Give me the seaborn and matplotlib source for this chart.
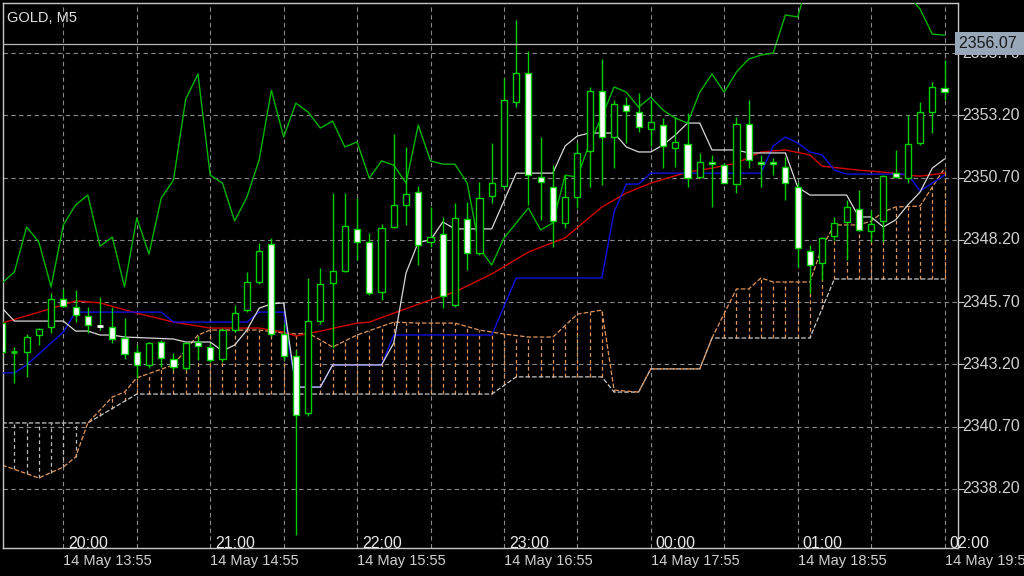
import numpy as np
import pandas as pd
import matplotlib
matplotlib.use("Agg")
import matplotlib.pyplot as plt
import seaborn as sns

# ---------------- data (index 0 = 20:00 bar, 5-minute bars) ----------------
bar_idx = list(range(-5, 73))
opens = [2344.86,2343.68,2343.70,2344.38,2344.70,2345.83,2345.51,2345.15,2344.76,2344.70,2344.26,2343.70,2343.18,2344.10,2343.42,
         2343.06,2344.10,2343.90,2343.42,2344.58,2345.39,2346.51,2348.04,2344.42,2343.54,2341.25,2344.94,2346.47,2346.95,2348.64,
         2348.12,2346.11,2348.72,2349.60,2350.12,2348.12,2348.44,2345.59,2349.04,2347.67,2349.96,2350.36,2353.74,2354.90,2350.73,
         2350.32,2348.88,2349.92,2351.77,2354.18,2352.33,2353.62,2353.33,2352.65,2352.81,2351.89,2352.05,2350.73,2351.33,2351.21,
         2350.44,2352.85,2351.33,2351.33,2351.13,2350.32,2347.76,2347.27,2348.36,2348.92,2349.44,2348.56,2348.96,2350.89,2350.69,
         2352.09,2353.33,2354.30]
highs = [2345.07,2343.91,2344.42,2344.66,2346.07,2346.23,2346.19,2345.51,2345.91,2345.51,2345.07,2343.98,2344.10,2344.18,2343.66,
         2344.10,2344.34,2344.06,2344.66,2345.59,2346.91,2348.08,2348.28,2344.86,2343.78,2346.67,2347.07,2350.08,2350.08,2349.88,
         2348.48,2348.84,2352.45,2351.93,2350.36,2349.52,2349.12,2349.68,2349.72,2350.52,2352.09,2354.70,2357.03,2355.78,2352.33,
         2351.21,2350.81,2352.09,2354.34,2355.46,2353.82,2353.94,2354.10,2353.82,2353.09,2353.13,2353.29,2351.69,2351.61,2351.29,
         2353.13,2353.82,2351.61,2351.49,2351.53,2350.52,2348.00,2348.32,2349.12,2349.80,2350.20,2349.40,2350.81,2351.81,2353.21,
         2353.74,2354.54,2355.42]
lows = [2343.54,2342.47,2342.70,2343.98,2344.46,2345.51,2344.90,2344.46,2344.58,2344.06,2343.42,2342.66,2343.06,2343.10,2342.98,
        2342.98,2343.38,2343.30,2343.30,2344.50,2345.31,2346.43,2344.34,2343.38,2336.36,2341.13,2344.82,2343.86,2346.91,2347.39,
        2345.99,2345.79,2348.68,2348.80,2347.19,2347.92,2345.47,2345.51,2347.00,2347.59,2349.68,2350.28,2353.54,2349.60,2349.00,
        2347.92,2348.68,2349.48,2350.32,2350.40,2351.09,2352.09,2352.53,2351.97,2351.09,2351.13,2350.32,2350.69,2349.52,2350.48,
        2350.08,2351.09,2350.32,2350.81,2349.80,2347.11,2346.07,2346.59,2348.20,2347.39,2348.56,2348.12,2348.12,2350.69,2350.48,
        2352.01,2352.49,2353.82]
closes = [2343.70,2343.70,2344.30,2344.62,2345.83,2345.55,2345.19,2344.78,2344.74,2344.22,2343.62,2343.18,2344.06,2343.46,2343.10,
          2344.06,2343.94,2343.38,2344.58,2345.27,2346.51,2347.76,2344.42,2343.54,2341.17,2344.94,2346.43,2346.95,2348.76,2348.12,
          2346.07,2348.68,2349.60,2350.04,2348.00,2348.32,2345.95,2349.08,2347.67,2349.88,2350.48,2353.82,2354.90,2350.81,2350.52,
          2348.96,2349.92,2351.69,2354.18,2352.33,2353.66,2353.37,2352.73,2352.93,2351.97,2352.13,2350.69,2351.33,2351.25,2350.48,
          2352.85,2351.41,2351.25,2351.25,2350.48,2347.88,2347.19,2348.28,2348.88,2349.52,2348.60,2348.84,2350.77,2350.73,2352.05,
          2353.33,2354.34,2354.14]

tenkan_x = [-5,-4,0,1,2,3,4,5,9,10,12,13,14,15,16,17,18,19,21,22,26,27,28,29,30,31,32,35,37,40,41,42,43,45,46,47,48,49,50,51,52,
            53,55,56,59,60,61,64,65,66,67,68,69,70,71,72]
tenkan_y = [2345.46,2344.94,2344.94,2344.54,2344.54,2344.38,2344.38,2344.30,2344.22,2344.10,2344.10,2343.74,2343.98,2344.58,2345.46,
            2345.63,2345.67,2342.29,2342.29,2343.18,2343.18,2344.06,2346.87,2348.11,2348.19,2348.92,2348.64,2348.64,2350.88,2350.88,
            2351.97,2352.37,2352.49,2352.49,2351.93,2351.73,2351.73,2352.01,2352.41,2352.89,2352.89,2351.81,2351.81,2351.69,2351.69,
            2350.32,2350.00,2350.00,2349.12,2349.12,2348.72,2349.00,2349.60,2350.12,2351.08,2351.45]
kijun_x = [-5,-4,-3,-2,0,1,8,9,15,16,18,19,21,22,26,27,35,37,44,45,46,47,48,57,58,59,60,61,62,63,64,69,70,71,72]
kijun_y = [2342.86,2342.86,2343.18,2343.62,2344.50,2345.30,2345.30,2344.90,2344.90,2345.30,2345.30,2342.29,2342.29,2343.18,2343.18,
           2344.38,2344.38,2346.67,2346.67,2349.32,2350.44,2350.44,2350.88,2350.88,2351.97,2352.33,2352.09,2351.73,2351.61,2351.00,
           2350.84,2350.84,2350.16,2350.48,2350.80]
ma_x = [-5,0,1,3,6,9,12,16,18,19,21,24,25,27,30,32,35,38,41,44,46,48,51,53,55,57,59,61,62,65,67,69,70,72]
ma_y = [2344.86,2345.59,2345.75,2345.67,2345.26,2344.90,2344.66,2344.66,2344.50,2344.34,2344.54,2344.86,2344.90,2345.26,2345.79,
        2346.11,2346.83,2347.71,2348.28,2349.52,2350.08,2350.48,2350.92,2351.08,2351.28,2351.73,2351.81,2351.61,2351.16,2351.00,
        2350.92,2350.80,2350.76,2350.88]
chikou_x = list(range(-5, 62)) + [68, 69, 70, 71, 72]
chikou_y = [2346.47,2346.91,2348.72,2348.11,2346.31,2348.80,2349.60,2350.00,2347.95,2348.31,2346.31,2349.08,2347.63,2349.88,2350.60,
            2353.85,2354.86,2350.80,2350.48,2348.96,2349.92,2351.41,2354.21,2352.33,2353.69,2353.33,2352.69,2352.97,2351.93,2352.13,
            2350.68,2351.37,2351.20,2350.48,2352.81,2351.37,2351.24,2351.24,2350.48,2347.87,2347.19,2348.27,2348.88,2349.48,2348.60,
            2348.88,2350.80,2350.72,2352.09,2353.13,2354.34,2354.13,2353.53,2353.93,2353.41,2353.09,2352.89,2354.13,2354.86,2354.13,
            2354.94,2355.46,2355.62,2355.70,2357.23,2357.15,2358.83,2358.83,2358.03,2357.47,2356.46,2356.42]
spanA_x = [-5,-2,0,1,2,4,5,6,9,11,12,16,18,19,20,22,24,27,29,32,34,36,38,40,42,44,45,47,48,52,53,55,56,57,58,61,62,63,65,66,67,68,70,71,72]
spanA_y = [2339.16,2338.64,2339.08,2339.48,2340.85,2341.89,2342.09,2342.66,2343.18,2344.38,2344.58,2344.58,2344.46,2344.42,2344.46,
           2343.90,2344.38,2344.90,2344.86,2344.86,2344.58,2344.42,2344.30,2344.30,2345.22,2345.38,2342.17,2342.09,2343.02,2343.02,
           2344.26,2346.23,2346.23,2346.67,2346.51,2346.51,2347.91,2348.80,2348.80,2348.96,2349.32,2349.52,2349.56,2350.32,2351.08]
spanB_x = [-5,2,6,35,37,44,45,47,48,52,53,61,63,72]
spanB_y = [2340.85,2340.85,2342.01,2342.01,2342.70,2342.70,2342.09,2342.09,2343.02,2343.02,2344.26,2344.26,2346.63,2346.63]

price_levels = [2338.20, 2340.70, 2343.20, 2345.70, 2348.20, 2350.70, 2353.20, 2355.70]
time_ticks = [0, 12, 24, 36, 48, 60, 72]
time_top = ["20:00", "21:00", "22:00", "23:00", "00:00", "01:00", "02:00"]
time_bottom = ["14 May 13:55", "14 May 14:55", "14 May 15:55", "14 May 16:55", "14 May 17:55", "14 May 18:55", "14 May 19:55"]
current_price = 2356.07
symbol_label = "GOLD, M5"

# ---------------- styling ----------------
sns.set_style("dark", {"axes.facecolor": "black", "figure.facecolor": "black"})
plt.rcParams['font.family'] = ['Liberation Sans', 'DejaVu Sans']

fig = plt.figure(figsize=(10.24, 5.76), dpi=100)
ax = fig.add_axes([3/1024, 28/576, 955/1024, 545/576])
ax.set_facecolor("black")
x0, x1 = -4.93, 73.1
y0, y1 = 2335.83, 2357.71
ax.set_xlim(x0, x1)
ax.set_ylim(y0, y1)

# grid
for p in price_levels:
    ax.axhline(p, color="#8a8a8a", lw=0.8, ls=(0, (4, 3)), zorder=0)
for v in range(0, 73, 6):
    ax.axvline(v, color="#8a8a8a", lw=0.8, ls=(0, (4, 3)), zorder=0)

# cloud hatch
ii = np.array(bar_idx)
A = np.interp(ii, spanA_x, spanA_y)
B = np.interp(ii, spanB_x, spanB_y)
for k, a, b in zip(ii, A, B):
    col = "#e0955a" if a > b else "#bdbdbd"
    ax.vlines(k, min(a, b), max(a, b), color=col, lw=0.9, ls=(0, (3, 2.5)), zorder=1)

sns.lineplot(x=spanB_x, y=spanB_y, ax=ax, color="#c8c8c8", lw=0.9, ls="--", zorder=2, estimator=None)
sns.lineplot(x=spanA_x, y=spanA_y, ax=ax, color="#e0955a", lw=0.9, ls="--", zorder=2, estimator=None)
sns.lineplot(x=ma_x, y=ma_y, ax=ax, color="#d40000", lw=1.0, zorder=3, estimator=None)
sns.lineplot(x=kijun_x, y=kijun_y, ax=ax, color="#1010e0", lw=1.0, zorder=3, estimator=None)
sns.lineplot(x=tenkan_x, y=tenkan_y, ax=ax, color="#d8d8d8", lw=0.9, zorder=3, estimator=None)
sns.lineplot(x=chikou_x, y=chikou_y, ax=ax, color="#00b400", lw=1.0, zorder=3, estimator=None)

# candles
green = "#00d000"
w = 0.5
for k, o, h, l, c in zip(bar_idx, opens, highs, lows, closes):
    ax.vlines(k, l, h, color=green, lw=1.0, zorder=4)
    lo, hi = min(o, c), max(o, c)
    fc = "black" if c > o else "white"
    if hi - lo < 0.06:
        ax.hlines((o + c) / 2, k - w / 2, k + w / 2, color=green if c >= o else "white", lw=2.0, zorder=5)
    else:
        ax.bar(k, hi - lo, bottom=lo, width=w, facecolor=fc, edgecolor=green, lw=1.0, zorder=5)

# current price line
ax.axhline(current_price, color="#b8b8b8", lw=0.9, zorder=6)

# axes frame & ticks
for s in ax.spines.values():
    s.set_color("#c8c8c8")
    s.set_linewidth(1.0)
ax.set_xticks(time_ticks)
ax.set_xticklabels([])
ax.set_yticks(price_levels)
ax.set_yticklabels([])
ax.tick_params(axis="x", length=4, color="#c8c8c8", direction="out")
ax.tick_params(axis="y", left=False, right=True, length=4, color="#c8c8c8", direction="out")
ax.grid(False)

# texts
for t, a_, b_ in zip(time_ticks, time_top, time_bottom):
    ax.text(t + 0.4, 2336.03, a_, color="#e8e8e8", fontsize=11.5, ha="left", va="center", zorder=7)
    ax.text(t, -0.024, b_, transform=ax.get_xaxis_transform(), color="#d0d0d0",
            fontsize=10.5, ha="left", va="center", clip_on=False)
for p in price_levels:
    ax.text(1.004, p, f"{p:.2f}", transform=ax.get_yaxis_transform(), color="#d0d0d0",
            fontsize=11.5, ha="left", va="center", zorder=7)
ax.text(1.001, current_price, f"{current_price:.2f} ", transform=ax.get_yaxis_transform(), color="#1a1a1a",
        fontsize=11.5, ha="left", va="center", zorder=9,
        bbox=dict(boxstyle="square,pad=0.25", facecolor="#98a8b8", edgecolor="none", zorder=9))
ax.text(0.004, 0.985, symbol_label, transform=ax.transAxes, color="#e0e0e0", fontsize=10.5, ha="left", va="top")

fig.savefig("out.png", dpi=100, facecolor="black")
